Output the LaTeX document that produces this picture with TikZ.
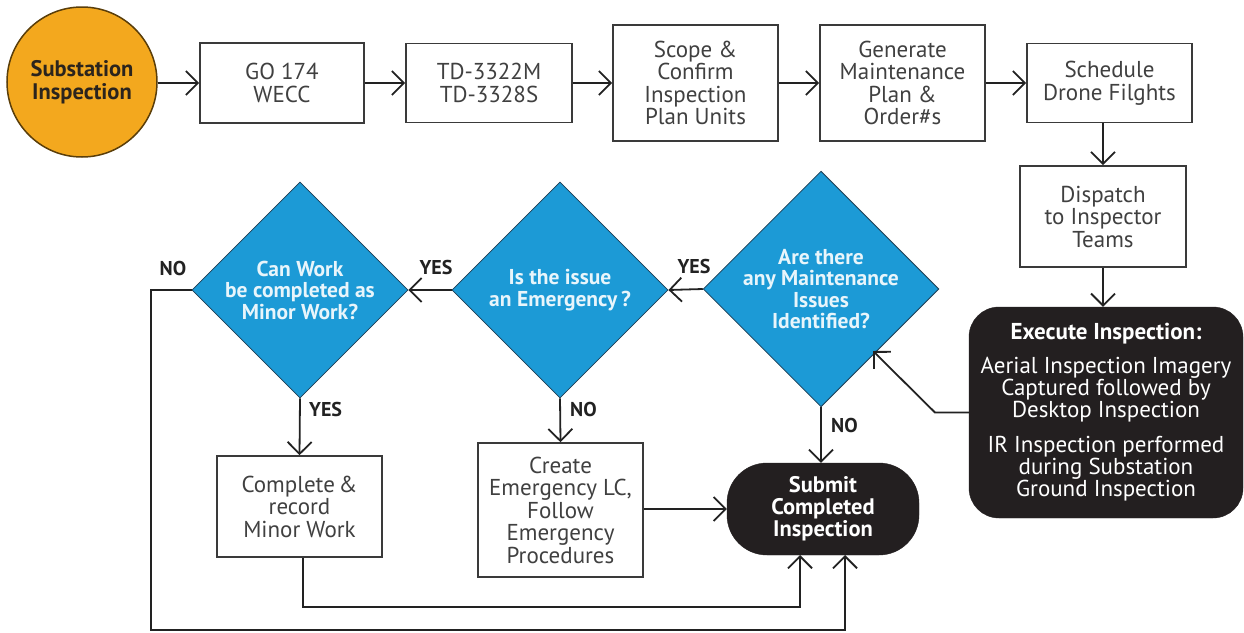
\documentclass[tikz,border=0pt]{standalone}
\usepackage{fontspec}
\setmainfont{PT Sans}
\usetikzlibrary{shapes.geometric,arrows.meta,calc}
\definecolor{dblue}{HTML}{1C9AD6}
\definecolor{dedge}{HTML}{1D3C52}
\definecolor{orng}{HTML}{F3A81E}
\definecolor{orngedge}{HTML}{5A3E0A}
\definecolor{boxgray}{HTML}{3A3A3A}
\definecolor{txtgray}{HTML}{404040}
\definecolor{lineblack}{HTML}{222222}
\definecolor{blk}{HTML}{231F20}
\definecolor{dtext}{HTML}{E8F5FB}
\begin{document}
\begin{tikzpicture}[x=1pt,y=-1pt,
  box/.style={draw=boxgray, line width=1.6pt, fill=white, text=txtgray, align=center, inner sep=0pt, font=\fontsize{23}{22.5}\selectfont},
  dia/.style={diamond, draw=dedge, line width=0.8pt, fill=dblue, text=dtext, align=center, inner sep=0pt, minimum width=216pt, minimum height=216pt, font=\bfseries\fontsize{21.5}{21.5}\selectfont},
  blkbox/.style={draw=blk, fill=blk, text=white, align=center, inner sep=0pt, font=\fontsize{23}{22}\selectfont},
  arr/.style={draw=lineblack, line width=1.8pt, -{Straight Barb[length=12pt,width=24pt]}},
  lbl/.style={text=lineblack, font=\bfseries\fontsize{20}{20}\selectfont, inner sep=0pt}]
\useasboundingbox (0,0) rectangle (1244,632);

% start circle
\node[circle, draw=orngedge, line width=1.5pt, fill=orng, minimum size=150pt, inner sep=0pt, align=center, text=blk!85!orngedge, font=\bfseries\fontsize{22.5}{23}\selectfont] (st) at (82,82) {Substation\\Inspection};

% top row
\node[box, minimum width=164pt, minimum height=80pt] (go) at (282,83) {GO 174\\WECC};
\node[box, minimum width=166pt, minimum height=79pt] (td) at (489,83) {TD-3322M\\TD-3328S};
\node[box, minimum width=165pt, minimum height=116pt] (sc) at (695.5,83) {Scope \&\\Confirm\\Inspection\\Plan Units};
\node[box, minimum width=165pt, minimum height=116pt] (gen) at (902.5,83) {Generate\\Maintenance\\Plan \&\\Order\#s};
\node[box, minimum width=165pt, minimum height=79pt] (sch) at (1109.5,83) {Schedule\\Drone Filghts};
\node[box, minimum width=166pt, minimum height=101pt] (dis) at (1103,216.5) {Dispatch\\to Inspector\\Teams};

% execute
\node[blkbox, rounded corners=30pt, minimum width=274pt, minimum height=211pt] (ex) at (1106,412.5) {{\bfseries Execute Inspection:}\\[12pt]Aerial Inspection Imagery\\Captured followed by\\Desktop Inspection\\[13pt]IR Inspection performed\\during Substation\\Ground Inspection};

% diamonds
\node[dia] (ar) at (821,289) {Are there\\any Maintenance\\Issues\\Identified?};
\node[dia] (is) at (560,290) {Is the issue\\an Emergency\,?};
\node[dia] (cw) at (300,290) {Can Work\\be completed as\\Minor Work?};

% lower boxes
\node[box, minimum width=165pt, minimum height=101pt] (cp) at (299.5,506.5) {Complete\,\&\\record\\Minor Work};
\node[box, minimum width=165pt, minimum height=134pt] (cr) at (560.5,510) {Create\\Emergency LC,\\Follow\\Emergency\\Procedures};
\node[blkbox, rounded corners=40pt, minimum width=192pt, minimum height=92pt, font=\bfseries\fontsize{22.5}{22}\selectfont] (sub) at (823,509) {Submit\\Completed\\Inspection};

% connectors top row
\draw[arr] (st.east |- go.west) -- (go.west);
\draw[arr] (go.east) -- (td.west);
\draw[arr] (td.east) -- (sc.west);
\draw[arr] (sc.east) -- (gen.west);
\draw[arr] (gen.east) -- (sch.west);
\draw[arr] (sch.south -| dis.north) -- (dis.north);
\draw[arr] (dis.south) -- (dis.south |- ex.north);

% execute -> are there
\coordinate (eb) at (935,412.5);
\coordinate (et) at (873,351);
\draw[arr] (ex.west) -- (eb) -- (et);

% decisions
\draw[arr] (ar.west) -- (is.east);
\draw[arr] (is.west) -- (cw.east);
\draw[arr] (cw.south) -- (cp.north);
\draw[arr] (is.south) -- (cr.north);
\draw[arr] (ar.south) -- (ar.south |- sub.north);
\draw[arr] (cr.east |- sub.west) -- (sub.west);

% loops to submit
\coordinate (l1) at (151,630);
\coordinate (l2) at (845,555);
\draw[arr] (cw.west) -| (l1) -| (l2);
\coordinate (m1) at (303,607);
\coordinate (m2) at (800,555);
\draw[arr] (cp.south -| m1) -- (m1) -| (m2);

% labels
\node[lbl] (n1) at (173,268) {NO};
\node[lbl] (y1) at (436,267) {YES};
\node[lbl] (y2) at (694,266) {YES};
\node[lbl, anchor=west] (y3) at (309,409) {YES};
\node[lbl, anchor=west] (n2) at (570,409) {NO};
\node[lbl, anchor=west] (n3) at (831,425) {NO};
\end{tikzpicture}
\end{document}
